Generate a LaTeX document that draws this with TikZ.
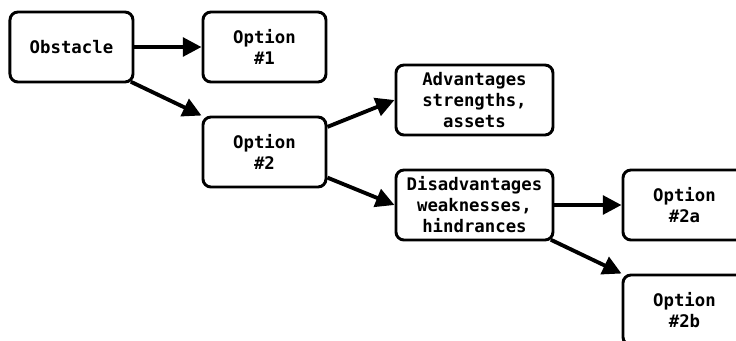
\documentclass[tikz,border=0pt]{standalone}
\usepackage{fontspec}
\usetikzlibrary{arrows.meta}
\usetikzlibrary{positioning}
\newfontfamily\boxfont{DejaVu Sans Mono}

\begin{document}
\begin{tikzpicture}[-{Triangle[length=14pt,width=14pt]}, node distance =78.75pt and 157.5pt, on grid,
line width=2.9pt,
choice/.style ={ rectangle, rounded corners=6pt, draw, line width=2.2pt, fill=white, align=center,
 font=\boxfont\bfseries\fontsize{13}{15.75}\selectfont,
 minimum width=92.25pt, minimum height=52.5pt, inner sep=0pt},
wide/.style ={ choice, minimum width=117.75pt}]
\useasboundingbox (-53.6pt,35.25pt) rectangle (498.4pt,-219.75pt);
\node[choice] (obst) {Obstacle};
\node[choice, right=144.75pt of obst] (opt1) {Option\\\#1};
\node[choice, below right=78.75pt and 144.75pt of obst] (opt2) {Option\\\#2};
\node[wide, above right=39pt and 157.5pt of opt2] (adv) {Advantages\\strengths,\\assets};
\node[wide, below right=39.75pt and 157.5pt of opt2] (dis) {Disadvantages\\weaknesses,\\hindrances};
\node[choice, right=157.5pt of dis] (opt2a) {Option\\\#2a};
\node[choice, below right=78.75pt and 157.5pt of dis] (opt2b) {Option\\\#2b};
\draw (obst) -- (opt1);
\draw[shorten <=-3pt] (obst.south east) -- (opt2.north west);
\draw (opt2) -- (adv.west);
\draw (opt2) -- (dis.west);
\draw (dis) -- (opt2a);
\draw[shorten <=-3pt] (dis.south east) -- (opt2b.north west);
\end{tikzpicture}
\end{document}
